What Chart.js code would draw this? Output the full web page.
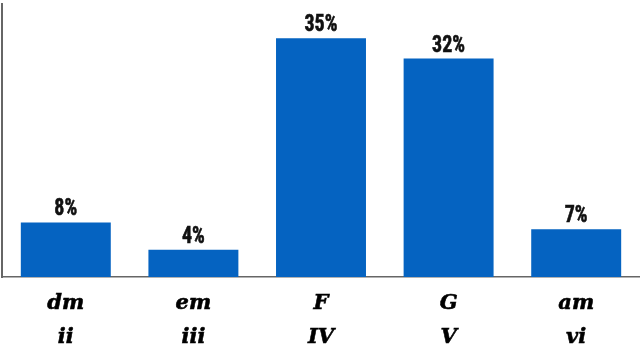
<!DOCTYPE html>
<html>
<head>
<meta charset="utf-8">
<script src="https://cdn.jsdelivr.net/npm/chart.js@4"></script>
<style>
  html, body { margin: 0; padding: 0; background: #fff; }
  #wrap { width: 640px; height: 352px; }
</style>
</head>
<body>
<div id="wrap"><canvas id="chordChart"></canvas></div>
<script>
// acordes e graus
const chords = ["dm", "em", "F", "G", "am"];
const degrees = ["ii", "iii", "IV", "V", "vi"];
const shares = [8, 4, 35, 32, 7];

// rótulo de valor em cima de cada barra (fonte estreita, esticada na vertical)
const valueLabels = {
  id: "valueLabels",
  afterDatasetsDraw(chart) {
    const ctx = chart.ctx;
    const meta = chart.getDatasetMeta(0);
    const sy = 1.18;
    ctx.save();
    ctx.font = "bold 20px 'Liberation Sans Narrow', 'Roboto Condensed', sans-serif";
    ctx.fillStyle = "#111";
    ctx.strokeStyle = "#111";
    ctx.lineWidth = 0.5;
    ctx.textAlign = "center";
    ctx.textBaseline = "alphabetic";
    meta.data.forEach((bar, i) => {
      const t = shares[i] + "%";
      ctx.save();
      ctx.translate(bar.x, bar.y - 7);
      ctx.scale(1, sy);
      ctx.fillText(t, 0, 0);
      ctx.strokeText(t, 0, 0);
      ctx.restore();
    });
    ctx.restore();
  }
};

new Chart(document.getElementById("chordChart"), {
  type: "bar",
  data: {
    labels: chords.map((c, i) => [c, degrees[i]]),
    datasets: [{
      data: shares,
      backgroundColor: "#0563c1",
      borderWidth: 0,
      categoryPercentage: 1,
      barPercentage: 0.705
    }]
  },
  options: {
    responsive: true,
    maintainAspectRatio: false,
    animation: false,
    layout: { padding: { top: 4, left: 1, right: 0, bottom: 0 } },
    plugins: { legend: { display: false }, tooltip: { enabled: false } },
    scales: {
      x: {
        grid: { display: false },
        border: { display: true, color: "#666", width: 1.5 },
        afterFit: s => { s.height = 75; },
        ticks: {
          color: "#000",
          textStrokeColor: "#000",
          textStrokeWidth: 0.6,
          padding: 2,
          maxRotation: 0,
          font: { family: "'DejaVu Serif', serif", size: 21, style: "italic", weight: "bold", lineHeight: 1.62 }
        }
      },
      y: {
        min: 0,
        max: 40,
        grid: { display: false },
        border: { display: true, color: "#666", width: 2 },
        afterFit: s => { s.width = 1; },
        ticks: { display: false }
      }
    }
  },
  plugins: [valueLabels]
});
</script>
</body>
</html>
